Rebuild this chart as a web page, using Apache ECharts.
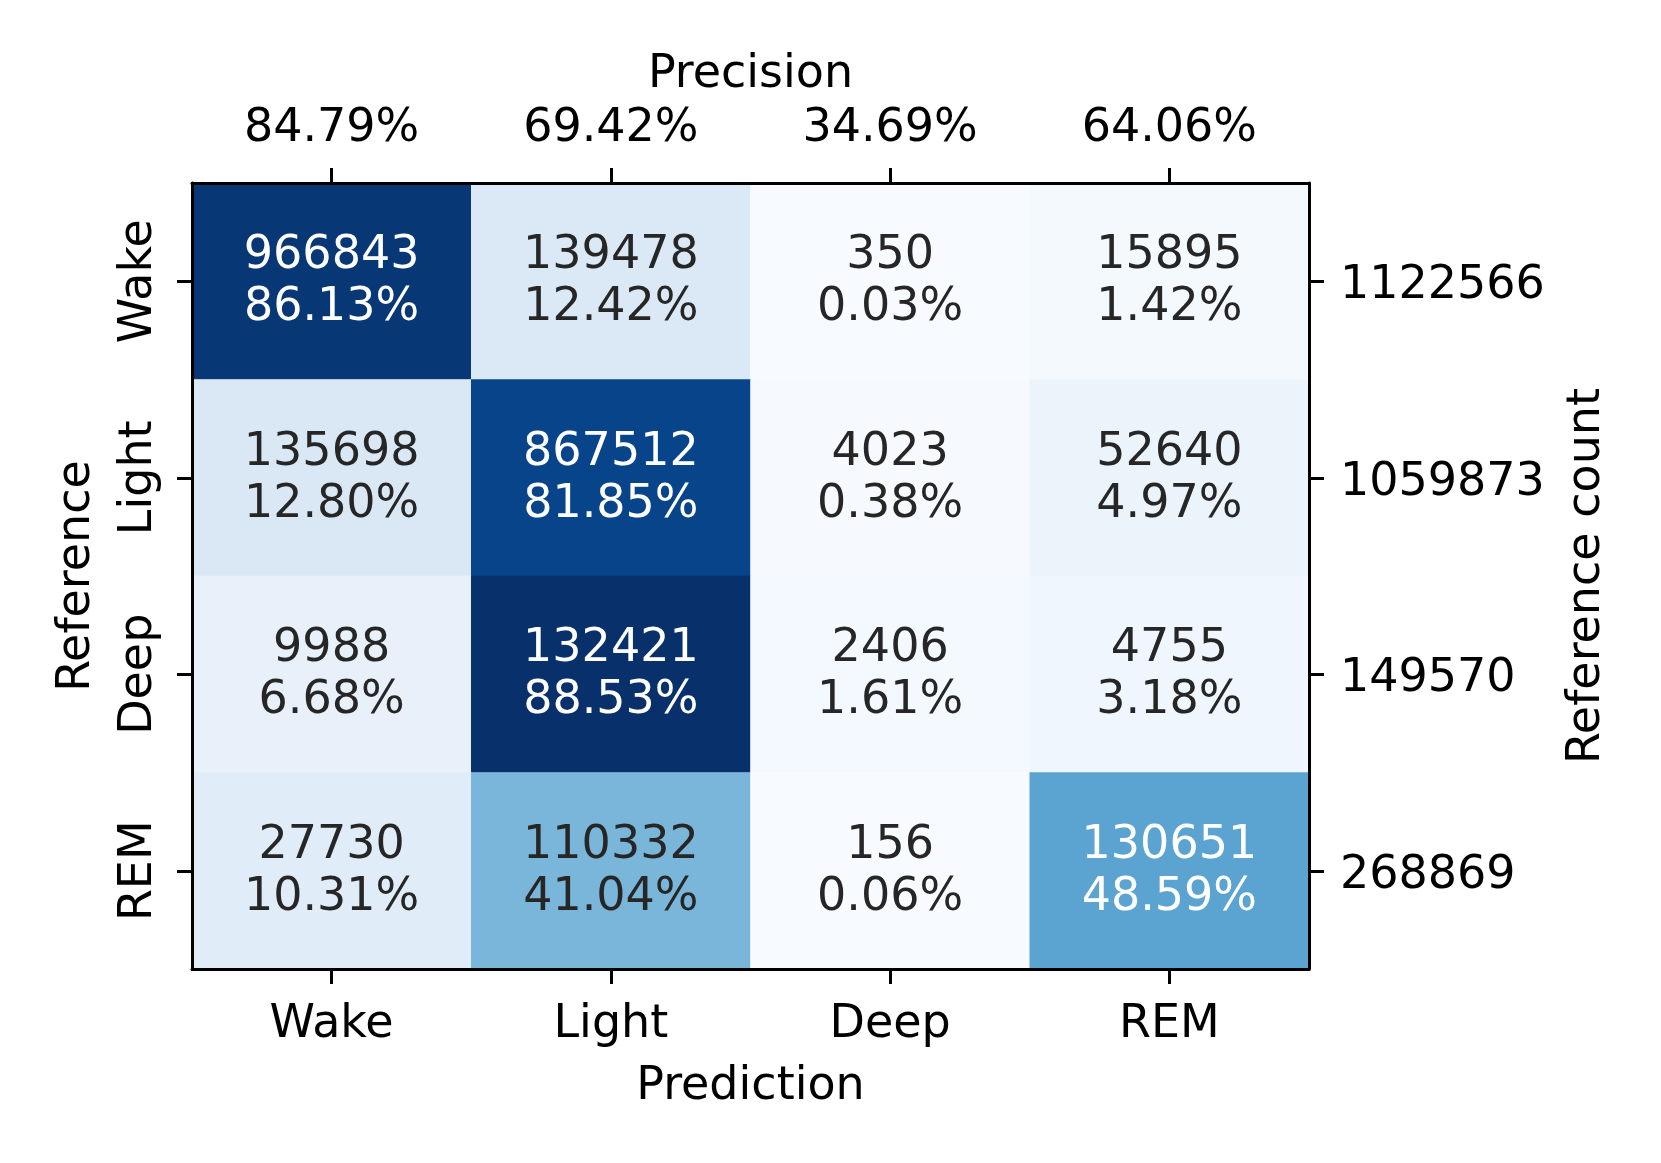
<!DOCTYPE html>
<html><head><meta charset="utf-8">
<script src="https://cdn.jsdelivr.net/npm/echarts@6/dist/echarts.min.js"></script>
<style>html,body{margin:0;padding:0;background:#fff}#c{width:1661px;height:1163px}</style>
</head><body><div id="c"></div>
<script>
// ---- data ----
const predictionCategories = ['Wake', 'Light', 'Deep', 'REM'];
const referenceCategories = ['Wake', 'Light', 'Deep', 'REM'];
const countsWake  = [966843, 139478, 350, 15895];
const countsLight = [135698, 867512, 4023, 52640];
const countsDeep  = [9988, 132421, 2406, 4755];
const countsREM   = [27730, 110332, 156, 130651];
const precisionLabels = ['84.79%', '69.42%', '34.69%', '64.06%'];
const referenceCountLabels = ['1122566', '1059873', '149570', '268869'];
const blues = ['#f7fbff', '#deebf7', '#c6dbef', '#9ecae1', '#6baed6', '#4292c6', '#2171b5', '#08519c', '#08306b'];

// ---- build ----
const rows = [countsWake, countsLight, countsDeep, countsREM];
const cells = [];
let maxPct = 0;
rows.forEach((r) => {
  const tot = r.reduce((a, b) => a + b, 0);
  r.forEach((v) => { maxPct = Math.max(maxPct, v / tot * 100); });
});
rows.forEach((r, yi) => {
  const tot = r.reduce((a, b) => a + b, 0);
  r.forEach((v, xi) => {
    const pct = v / tot * 100;
    cells.push({
      value: [xi, yi, pct, v],
      label: { color: pct / maxPct > 0.5 ? '#ffffff' : '#262626' }
    });
  });
});

const FONT = 'DejaVu Sans';
const FS = 46;
const axisLine = { show: true, lineStyle: { color: '#000', width: 3 } };
const axisTick = { show: true, alignWithLabel: true, length: 15, lineStyle: { color: '#000', width: 3 } };
const nameStyle = { fontFamily: FONT, fontSize: FS, color: '#000' };

const chart = echarts.init(document.getElementById('c'), null, { renderer: 'canvas' });
chart.setOption({
  animation: false,
  backgroundColor: '#fff',
  grid: { left: 192, right: 352, top: 183, bottom: 194, containLabel: false },
  xAxis: [
    { type: 'category', position: 'bottom', data: predictionCategories, z: 10,
      name: 'Prediction', nameLocation: 'middle', nameGap: 95, nameTextStyle: nameStyle,
      axisLine, axisTick, splitLine: { show: false },
      axisLabel: { fontFamily: FONT, fontSize: FS, color: '#000', margin: 33 } },
    { type: 'category', position: 'top', data: precisionLabels, z: 10,
      name: 'Precision', nameLocation: 'middle', nameGap: 85, nameTextStyle: nameStyle,
      axisLine, axisTick, splitLine: { show: false },
      axisLabel: { fontFamily: FONT, fontSize: FS, color: '#000', margin: 31 } }
  ],
  yAxis: [
    { type: 'category', position: 'left', inverse: true, data: referenceCategories, z: 10,
      name: 'Reference', nameLocation: 'middle', nameGap: 92, nameRotate: 90, nameTextStyle: nameStyle,
      axisLine, axisTick, splitLine: { show: false },
      axisLabel: { fontFamily: FONT, fontSize: FS, color: '#000', margin: 30, rotate: 90 } },
    { type: 'category', position: 'right', inverse: true, data: referenceCountLabels, z: 10,
      name: 'Reference count', nameLocation: 'middle', nameGap: 255, nameRotate: 90, nameTextStyle: nameStyle,
      axisLine, axisTick, splitLine: { show: false },
      axisLabel: { fontFamily: FONT, fontSize: FS, color: '#000', margin: 31, verticalAlign: 'top', lineHeight: 10 } }
  ],
  visualMap: {
    show: false, type: 'continuous', dimension: 2, min: 0, max: maxPct,
    seriesIndex: 0, inRange: { color: blues }
  },
  series: [{
    type: 'heatmap', xAxisIndex: 0, yAxisIndex: 0, data: cells, z: 1,
    itemStyle: { borderWidth: 0 },
    label: {
      show: true, fontFamily: FONT, fontSize: FS, lineHeight: 52, offset: [0, 1],
      formatter: (p) => p.value[3] + '\n' + p.value[2].toFixed(2) + '%'
    },
    emphasis: { disabled: true }
  }]
});
</script></body></html>
